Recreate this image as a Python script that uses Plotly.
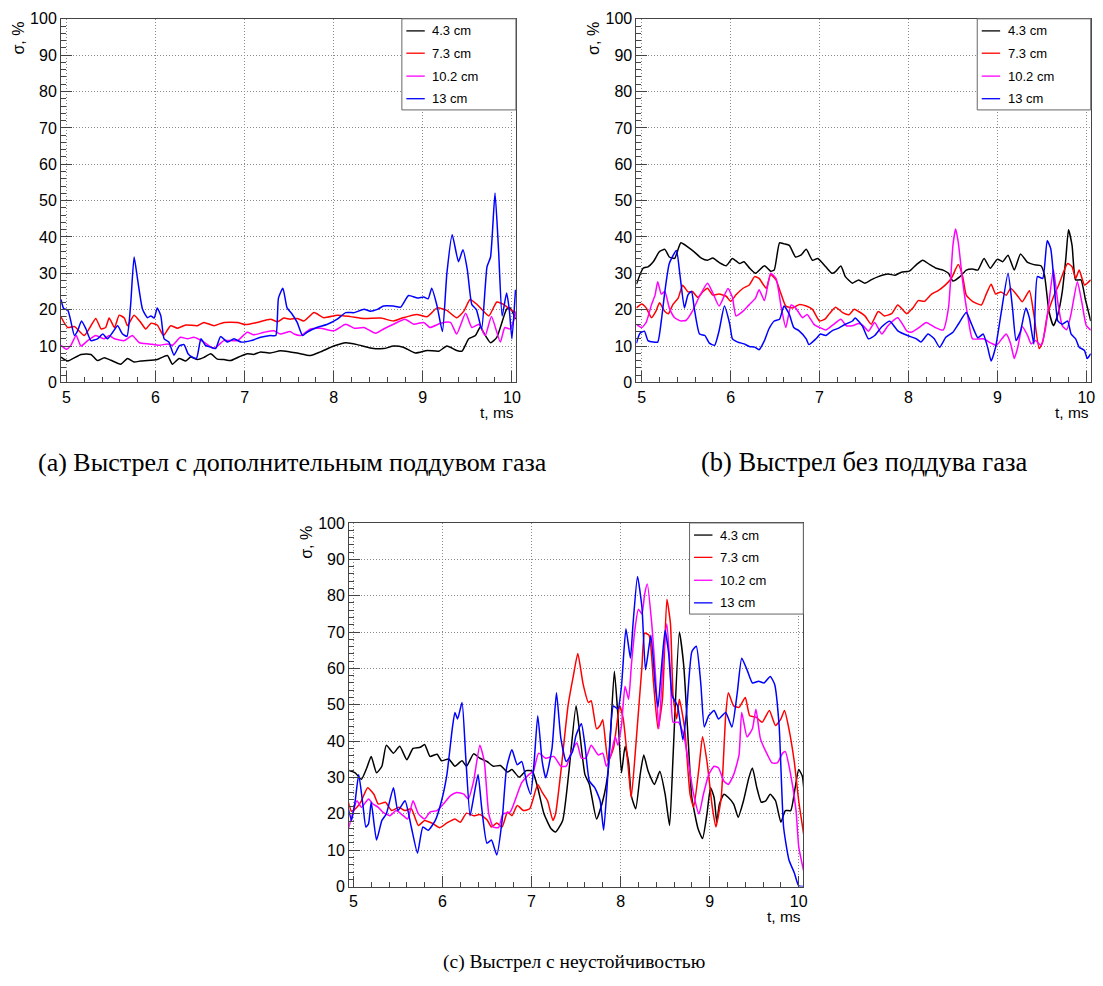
import plotly.graph_objects as go

# ---------------- (a) shot with extra gas puff ----------------
a_t43 = [4.94, 5.015, 5.164, 5.276, 5.35, 5.425, 5.50, 5.61, 5.686, 5.76, 5.835, 5.91, 6.02, 6.134, 6.19,
         6.265, 6.34, 6.395, 6.47, 6.544, 6.62, 6.694, 6.768, 6.843, 6.936, 7.03, 7.10, 7.18, 7.29, 7.40,
         7.51, 7.59, 7.74, 7.85, 8.0, 8.135, 8.265, 8.41, 8.56, 8.67, 8.78, 8.917, 9.05, 9.18, 9.27, 9.38,
         9.44, 9.515, 9.59, 9.646, 9.68, 9.76, 9.83, 9.94, 9.98, 10.04]
a_s43 = [7.0, 5.9, 7.7, 7.7, 6.0, 6.8, 6.1, 5.0, 6.6, 5.6, 5.9, 6.0, 6.3, 7.4, 5.0,
         6.6, 5.9, 7.0, 6.3, 6.9, 7.9, 6.4, 6.3, 6.0, 7.0, 7.9, 7.7, 8.4, 8.1, 8.7,
         8.4, 8.1, 7.4, 8.4, 10.0, 10.9, 10.4, 9.5, 9.3, 10.0, 9.7, 8.1, 8.8, 8.6, 10.0, 8.8,
         8.6, 12.0, 12.9, 15.3, 13.8, 10.9, 12.4, 20.1, 20.5, 17.4]

a_t73 = [4.94, 5.015, 5.09, 5.2, 5.276, 5.33, 5.39, 5.44, 5.48, 5.54, 5.593, 5.65, 5.686, 5.76, 5.835,
         5.89, 5.95, 6.02, 6.09, 6.17, 6.246, 6.34, 6.47, 6.544, 6.656, 6.768, 6.92, 7.01, 7.14, 7.29,
         7.37, 7.44, 7.51, 7.59, 7.666, 7.78, 7.89, 8.04, 8.19, 8.34, 8.53, 8.67, 8.78, 8.93, 9.05,
         9.16, 9.27, 9.38, 9.46, 9.53, 9.61, 9.74, 9.83, 9.91, 9.98, 10.04]
a_s73 = [18.0, 15.1, 15.4, 12.9, 15.6, 17.6, 14.7, 15.1, 17.7, 15.1, 18.5, 17.7, 15.6, 18.5, 16.5,
         14.7, 16.3, 15.8, 12.9, 15.6, 14.9, 15.8, 15.6, 16.5, 15.6, 16.5, 16.5, 15.9, 16.5, 17.4,
         16.7, 17.7, 17.4, 17.6, 16.9, 19.2, 17.8, 18.5, 18.1, 17.6, 17.7, 16.9, 17.8, 18.7, 18.1,
         20.5, 19.8, 17.8, 19.6, 22.8, 21.4, 18.3, 22.1, 21.4, 20.1, 19.2]

a_t102 = [4.94, 5.0, 5.05, 5.11, 5.164, 5.24, 5.33, 5.425, 5.48, 5.54, 5.65, 5.70, 5.74, 5.82, 5.93,
          6.04, 6.134, 6.19, 6.28, 6.36, 6.43, 6.544, 6.656, 6.768, 6.92, 7.03, 7.10, 7.22, 7.33, 7.40,
          7.51, 7.556, 7.63, 7.74, 7.85, 8.0, 8.135, 8.23, 8.34, 8.47, 8.56, 8.67, 8.80, 8.90, 9.01,
          9.08, 9.20, 9.31, 9.38, 9.48, 9.55, 9.63, 9.70, 9.77, 9.87, 9.92, 9.98, 10.05]
a_s102 = [10.2, 9.1, 10.2, 12.9, 10.0, 11.5, 12.9, 12.0, 12.9, 12.0, 11.5, 12.3, 12.9, 10.9, 10.6,
          10.2, 10.6, 10.2, 12.4, 12.0, 12.4, 11.1, 9.3, 11.5, 11.5, 13.8, 13.1, 13.8, 14.2, 13.3,
          14.0, 13.3, 12.9, 14.7, 14.9, 14.2, 16.0, 14.9, 15.1, 13.5, 14.7, 16.0, 17.4, 16.0, 16.5,
          15.1, 16.3, 16.5, 13.3, 19.0, 15.1, 16.0, 12.9, 18.1, 11.1, 15.1, 14.7, 19.6]

a_t13 = [4.94, 4.97, 5.015, 5.045, 5.09, 5.126, 5.17, 5.22, 5.276, 5.35, 5.41, 5.46, 5.52, 5.575, 5.63,
         5.68, 5.72, 5.76, 5.80, 5.855, 5.91, 5.948, 5.985, 6.02, 6.06, 6.097, 6.15, 6.208, 6.265, 6.32,
         6.365, 6.41, 6.46, 6.51, 6.56, 6.62, 6.675, 6.73, 6.81, 6.88, 6.96, 7.07, 7.18, 7.29, 7.35,
         7.38, 7.43, 7.477, 7.53, 7.59, 7.65, 7.70, 7.81, 7.93, 8.04, 8.135, 8.23, 8.34, 8.41, 8.49,
         8.56, 8.67, 8.75, 8.84, 8.94, 9.01, 9.06, 9.10, 9.16, 9.22, 9.27, 9.33, 9.40, 9.45, 9.50,
         9.55, 9.60, 9.66, 9.72, 9.76, 9.81, 9.85, 9.89, 9.94, 9.97, 10.0, 10.04]
a_s13 = [22.8, 20.3, 19.9, 17.4, 12.9, 14.2, 16.9, 14.7, 11.5, 12.0, 13.3, 12.0, 13.8, 15.6, 13.3,
         12.7, 21.0, 34.5, 28.2, 20.1, 17.8, 18.3, 17.7, 20.5, 18.3, 12.0, 11.1, 7.5, 10.0, 10.4,
         7.9, 7.0, 6.6, 12.0, 10.2, 9.7, 9.3, 12.6, 11.1, 12.0, 11.1, 11.5, 12.4, 12.9, 12.9,
         23.2, 25.9, 20.5, 18.9, 16.5, 12.9, 13.8, 15.1, 16.0, 17.4, 19.2, 19.2, 20.1, 19.6, 20.1,
         21.0, 21.0, 20.7, 23.9, 23.2, 23.5, 23.0, 25.9, 21.0, 14.0, 30.0, 40.6, 33.2, 36.5, 30.9,
         21.4, 20.1, 14.7, 31.8, 34.5, 52.1, 36.3, 18.3, 24.6, 20.1, 12.0, 25.5]

# ---------------- (b) shot without gas puff ----------------
b_t43 = [4.94, 5.015, 5.07, 5.13, 5.20, 5.26, 5.31, 5.37, 5.44, 5.52, 5.59, 5.67, 5.74, 5.80, 5.87,
         5.95, 6.02, 6.10, 6.15, 6.21, 6.28, 6.38, 6.45, 6.49, 6.55, 6.60, 6.66, 6.73, 6.79, 6.85,
         6.92, 6.98, 7.07, 7.14, 7.18, 7.24, 7.29, 7.37, 7.44, 7.51, 7.58, 7.66, 7.77, 7.85, 7.92,
         8.01, 8.09, 8.16, 8.24, 8.31, 8.39, 8.45, 8.50, 8.58, 8.65, 8.72, 8.78, 8.85, 8.92, 9.00,
         9.06, 9.12, 9.19, 9.26, 9.34, 9.41, 9.49, 9.53, 9.58, 9.63, 9.68, 9.73, 9.77, 9.80, 9.84,
         9.88, 9.94, 9.99, 10.05]
b_s43 = [27.0, 31.4, 31.8, 33.2, 36.0, 36.6, 34.5, 34.1, 38.4, 37.2, 35.9, 34.2, 33.6, 34.2, 33.0,
         32.1, 34.1, 32.7, 33.2, 31.5, 30.0, 32.1, 30.6, 30.9, 38.4, 38.1, 37.7, 34.5, 35.0, 36.6,
         33.6, 34.1, 31.8, 30.0, 30.5, 32.0, 29.1, 27.3, 28.2, 27.3, 28.2, 29.1, 29.8, 29.5, 30.3,
         30.6, 32.4, 33.6, 32.4, 31.4, 30.9, 30.0, 27.9, 29.1, 30.9, 31.2, 30.9, 34.1, 31.4, 33.9,
         33.2, 35.0, 30.9, 35.3, 33.0, 32.4, 32.1, 29.5, 19.6, 15.6, 18.7, 25.0, 34.1, 42.0, 37.7,
         28.2, 28.2, 22.8, 16.9]

b_t73 = [4.94, 5.0, 5.05, 5.11, 5.16, 5.20, 5.26, 5.30, 5.35, 5.41, 5.46, 5.52, 5.57, 5.63, 5.69,
         5.74, 5.80, 5.87, 5.95, 6.00, 6.06, 6.14, 6.21, 6.27, 6.32, 6.40, 6.45, 6.51, 6.57, 6.62,
         6.70, 6.77, 6.85, 6.92, 7.00, 7.06, 7.11, 7.18, 7.26, 7.33, 7.39, 7.44, 7.51, 7.58, 7.66,
         7.73, 7.81, 7.88, 7.98, 8.05, 8.11, 8.18, 8.26, 8.33, 8.41, 8.48, 8.56, 8.61, 8.65, 8.72,
         8.82, 8.87, 8.93, 8.98, 9.04, 9.10, 9.15, 9.23, 9.28, 9.36, 9.41, 9.47, 9.51, 9.56, 9.64,
         9.69, 9.73, 9.79, 9.84, 9.88, 9.92, 9.98, 10.05]
b_s73 = [20.5, 21.6, 20.5, 17.8, 19.6, 21.9, 19.5, 18.9, 21.4, 23.2, 26.7, 24.9, 25.0, 23.4, 25.0,
         25.9, 24.0, 24.3, 23.7, 22.3, 24.1, 25.9, 26.8, 29.1, 28.6, 25.9, 29.7, 28.2, 24.1, 21.0,
         20.5, 21.4, 21.0, 20.1, 16.9, 17.4, 18.9, 20.7, 19.2, 18.6, 20.1, 19.5, 18.3, 16.0, 19.5,
         18.3, 18.9, 21.3, 18.9, 20.5, 22.5, 22.3, 24.3, 25.2, 26.7, 28.5, 32.4, 29.1, 24.0, 22.3,
         21.3, 24.0, 27.0, 24.3, 24.9, 24.0, 25.9, 23.7, 22.2, 25.2, 18.7, 9.3, 11.1, 18.3, 24.1,
         26.8, 29.5, 32.7, 31.8, 28.6, 30.9, 26.8, 28.2]

b_t102 = [4.94, 5.0, 5.05, 5.11, 5.15, 5.18, 5.22, 5.26, 5.31, 5.37, 5.44, 5.50, 5.57, 5.65, 5.74,
          5.80, 5.87, 5.97, 6.02, 6.06, 6.14, 6.21, 6.28, 6.32, 6.38, 6.45, 6.51, 6.57, 6.62, 6.68,
          6.73, 6.81, 6.86, 6.94, 7.01, 7.07, 7.14, 7.24, 7.30, 7.37, 7.44, 7.49, 7.55, 7.62, 7.70,
          7.77, 7.88, 7.98, 8.03, 8.13, 8.20, 8.30, 8.39, 8.45, 8.50, 8.53, 8.56, 8.61, 8.67, 8.72,
          8.84, 8.93, 8.99, 9.05, 9.10, 9.15, 9.19, 9.23, 9.28, 9.34, 9.38, 9.43, 9.49, 9.54, 9.58,
          9.63, 9.68, 9.73, 9.78, 9.83, 9.90, 9.95, 10.0, 10.05]
b_s102 = [16.0, 15.1, 16.5, 21.4, 24.0, 27.7, 24.3, 25.0, 20.5, 17.8, 16.9, 17.1, 19.6, 23.7, 27.3,
          24.6, 21.0, 25.8, 23.4, 18.3, 19.6, 21.4, 23.2, 25.5, 22.5, 30.0, 28.6, 20.5, 15.1, 21.3,
          20.5, 17.8, 18.7, 15.9, 15.0, 14.4, 15.6, 17.4, 15.6, 15.6, 16.2, 15.6, 14.1, 16.5, 13.3,
          15.6, 17.8, 14.2, 13.8, 15.3, 16.5, 15.1, 14.4, 20.5, 37.7, 42.2, 38.6, 27.7, 17.8, 12.0,
          12.0, 10.8, 10.2, 12.0, 13.3, 10.6, 6.6, 9.7, 15.3, 12.9, 10.6, 11.5, 10.2, 14.7, 22.0,
          31.0, 22.0, 15.6, 14.5, 19.0, 27.7, 22.0, 15.6, 14.4]

b_t13 = [4.94, 4.98, 5.03, 5.07, 5.13, 5.18, 5.22, 5.26, 5.31, 5.39, 5.43, 5.48, 5.52, 5.56, 5.59,
         5.65, 5.71, 5.76, 5.82, 5.87, 5.93, 5.99, 6.02, 6.08, 6.15, 6.21, 6.27, 6.32, 6.38, 6.43,
         6.49, 6.55, 6.60, 6.66, 6.71, 6.77, 6.85, 6.88, 6.96, 7.01, 7.07, 7.14, 7.22, 7.29, 7.37,
         7.40, 7.48, 7.55, 7.62, 7.70, 7.79, 7.88, 7.99, 8.09, 8.14, 8.22, 8.29, 8.35, 8.42, 8.50,
         8.56, 8.65, 8.71, 8.78, 8.84, 8.89, 8.93, 8.98, 9.04, 9.12, 9.17, 9.21, 9.26, 9.32, 9.36,
         9.41, 9.45, 9.51, 9.56, 9.60, 9.64, 9.68, 9.73, 9.79, 9.83, 9.88, 9.92, 9.98, 10.01, 10.05]
b_s13 = [10.8, 13.5, 14.1, 11.5, 11.1, 11.1, 16.9, 25.0, 32.7, 36.3, 29.5, 20.5, 24.1, 25.0, 20.5,
         13.3, 12.9, 10.8, 10.2, 14.2, 21.0, 16.0, 12.0, 11.1, 10.6, 9.9, 9.7, 9.0, 11.5, 14.7,
         16.9, 17.4, 21.0, 18.7, 15.1, 14.2, 12.0, 10.4, 12.0, 13.3, 12.9, 14.2, 15.0, 16.0, 16.9,
         17.7, 15.6, 12.0, 12.9, 15.3, 16.8, 14.2, 12.9, 12.0, 11.1, 13.3, 12.0, 9.7, 12.4, 13.8,
         16.0, 19.2, 16.0, 12.3, 13.3, 9.7, 5.9, 9.7, 18.7, 30.0, 20.5, 11.5, 14.1, 20.5, 17.8,
         10.6, 29.1, 28.6, 39.0, 36.8, 26.8, 16.9, 16.0, 16.9, 13.3, 12.0, 9.7, 8.8, 6.6, 7.9]

# ---------------- (c) shot with instability ----------------
c_t43 = [4.94, 5.02, 5.09, 5.15, 5.20, 5.26, 5.32, 5.37, 5.45, 5.52, 5.60, 5.67, 5.75, 5.80, 5.86,
         5.94, 5.99, 6.07, 6.14, 6.22, 6.27, 6.35, 6.42, 6.50, 6.57, 6.65, 6.73, 6.78, 6.86, 6.94,
         7.01, 7.07, 7.14, 7.22, 7.27, 7.35, 7.42, 7.50, 7.54, 7.60, 7.65, 7.73, 7.80, 7.86, 7.93,
         7.97, 8.01, 8.05, 8.09, 8.12, 8.17, 8.22, 8.26, 8.31, 8.38, 8.44, 8.50, 8.55, 8.59, 8.66,
         8.71, 8.76, 8.80, 8.87, 8.92, 8.97, 9.01, 9.05, 9.08, 9.11, 9.16, 9.21, 9.27, 9.32, 9.38,
         9.44, 9.48, 9.53, 9.58, 9.63, 9.68, 9.74, 9.80, 9.85, 9.91, 9.96, 10.0, 10.04, 10.06]
c_s43 = [32.0, 31.3, 29.5, 32.6, 35.8, 31.3, 33.1, 38.9, 36.7, 38.6, 34.9, 38.0, 38.3, 39.1, 35.8,
         36.4, 34.6, 35.1, 33.1, 34.6, 33.1, 36.5, 35.3, 34.4, 33.1, 33.3, 31.5, 32.2, 30.1, 31.9,
         31.7, 27.2, 20.0, 15.9, 15.0, 18.2, 31.7, 49.7, 42.5, 30.8, 28.1, 18.6, 23.6, 31.7, 59.2,
         47.0, 31.3, 38.5, 34.0, 25.0, 21.4, 30.8, 36.2, 31.7, 28.1, 31.7, 25.4, 16.8, 36.2, 70.0,
         60.5, 39.8, 24.5, 15.9, 13.2, 20.0, 27.2, 24.5, 17.7, 22.7, 25.4, 24.5, 22.7, 19.1, 23.6,
         29.9, 32.6, 27.2, 23.2, 23.6, 25.4, 23.6, 17.7, 20.9, 20.9, 27.2, 32.2, 30.4, 26.3]

c_t73 = [4.94, 4.98, 5.04, 5.09, 5.16, 5.23, 5.28, 5.36, 5.43, 5.51, 5.58, 5.65, 5.73, 5.80, 5.88,
         5.97, 6.05, 6.14, 6.20, 6.27, 6.35, 6.42, 6.50, 6.55, 6.61, 6.67, 6.73, 6.78, 6.84, 6.91,
         6.98, 7.07, 7.12, 7.18, 7.24, 7.27, 7.33, 7.41, 7.47, 7.52, 7.58, 7.64, 7.67, 7.73, 7.77,
         7.80, 7.86, 7.92, 7.99, 8.03, 8.09, 8.12, 8.18, 8.24, 8.27, 8.32, 8.37, 8.42, 8.47, 8.52,
         8.56, 8.59, 8.63, 8.66, 8.72, 8.78, 8.82, 8.88, 8.92, 8.97, 9.03, 9.07, 9.13, 9.18, 9.21,
         9.27, 9.33, 9.40, 9.45, 9.52, 9.59, 9.67, 9.74, 9.80, 9.84, 9.89, 9.95, 10.0, 10.06]
c_s73 = [23.6, 20.7, 21.8, 23.6, 27.2, 25.4, 22.7, 23.2, 20.9, 21.8, 20.9, 21.4, 16.8, 18.2, 17.5,
         16.2, 17.5, 18.6, 17.7, 20.2, 19.5, 19.8, 18.4, 16.4, 17.5, 16.4, 20.5, 19.5, 22.3, 20.9,
         21.4, 28.1, 25.9, 23.6, 18.2, 20.0, 31.7, 49.7, 58.0, 64.1, 55.6, 50.6, 51.1, 43.4, 44.3,
         45.9, 34.4, 38.0, 49.7, 46.1, 31.7, 24.5, 41.6, 60.5, 69.7, 69.1, 56.0, 43.4, 51.5, 79.0,
         72.3, 52.4, 46.1, 51.5, 43.4, 25.4, 21.8, 32.6, 41.2, 34.4, 21.8, 16.4, 24.5, 47.0, 53.3,
         49.7, 49.3, 52.0, 47.0, 46.6, 45.2, 48.4, 44.3, 46.1, 48.4, 43.4, 34.4, 23.6, 13.7]

c_t102 = [4.94, 4.98, 5.04, 5.09, 5.17, 5.22, 5.28, 5.33, 5.41, 5.48, 5.56, 5.61, 5.67, 5.73, 5.80,
          5.86, 5.94, 6.01, 6.09, 6.16, 6.24, 6.29, 6.35, 6.42, 6.47, 6.52, 6.57, 6.63, 6.68, 6.76,
          6.84, 6.89, 6.97, 7.02, 7.08, 7.16, 7.25, 7.33, 7.39, 7.45, 7.51, 7.56, 7.61, 7.67, 7.75,
          7.80, 7.84, 7.89, 7.94, 7.97, 8.01, 8.05, 8.09, 8.12, 8.16, 8.20, 8.24, 8.27, 8.30, 8.35,
          8.39, 8.43, 8.48, 8.52, 8.56, 8.59, 8.65, 8.71, 8.76, 8.82, 8.88, 8.93, 8.99, 9.05, 9.10,
          9.16, 9.21, 9.27, 9.33, 9.36, 9.42, 9.48, 9.52, 9.57, 9.65, 9.70, 9.76, 9.82, 9.85, 9.91,
          9.97, 10.0, 10.06]
c_s102 = [15.5, 19.1, 23.6, 21.8, 24.1, 22.7, 21.8, 20.5, 19.5, 20.9, 19.5, 18.6, 23.6, 20.0, 18.6,
          20.5, 20.9, 22.7, 25.0, 25.9, 25.4, 24.1, 29.0, 38.9, 34.4, 20.0, 16.4, 16.2, 20.0, 20.5,
          25.4, 28.6, 30.8, 31.7, 36.7, 35.3, 35.8, 33.1, 33.1, 37.1, 39.5, 35.3, 35.3, 38.9, 36.2,
          36.7, 33.1, 36.2, 41.2, 38.9, 44.3, 55.1, 51.5, 60.5, 70.5, 76.3, 75.0, 80.4, 83.2, 72.3,
          58.7, 43.4, 63.2, 72.3, 58.7, 45.2, 45.2, 41.6, 34.4, 25.4, 20.0, 25.4, 30.8, 33.1, 32.6,
          29.0, 28.1, 30.8, 36.2, 47.9, 41.2, 43.4, 48.8, 40.7, 36.2, 34.0, 34.0, 36.7, 37.1, 30.8,
          20.9, 11.0, 3.8]

c_t13 = [4.94, 4.98, 5.02, 5.06, 5.11, 5.14, 5.17, 5.20, 5.26, 5.32, 5.37, 5.45, 5.50, 5.58, 5.65,
         5.72, 5.78, 5.84, 5.92, 5.99, 6.05, 6.11, 6.14, 6.17, 6.22, 6.26, 6.31, 6.35, 6.40, 6.44,
         6.50, 6.55, 6.61, 6.67, 6.72, 6.78, 6.84, 6.89, 6.95, 6.99, 7.03, 7.07, 7.12, 7.16, 7.23,
         7.28, 7.33, 7.39, 7.46, 7.50, 7.56, 7.60, 7.65, 7.71, 7.77, 7.81, 7.86, 7.92, 7.97, 8.01,
         8.06, 8.11, 8.14, 8.19, 8.24, 8.28, 8.34, 8.39, 8.42, 8.46, 8.50, 8.54, 8.58, 8.64, 8.70,
         8.74, 8.80, 8.85, 8.90, 8.94, 8.99, 9.05, 9.10, 9.18, 9.25, 9.31, 9.36, 9.42, 9.48, 9.55,
         9.61, 9.68, 9.73, 9.78, 9.83, 9.89, 9.95, 10.0, 10.06]
c_s13 = [21.8, 18.2, 23.6, 30.8, 21.8, 16.4, 17.3, 23.2, 12.8, 18.2, 20.0, 27.2, 20.9, 23.6, 16.4,
         9.2, 16.4, 15.5, 18.2, 23.6, 30.8, 43.4, 47.9, 46.1, 50.6, 36.2, 19.5, 24.5, 30.8, 21.8,
         11.9, 12.8, 8.7, 18.2, 32.6, 37.6, 33.5, 34.4, 28.1, 25.4, 34.4, 47.0, 34.4, 29.9, 38.0,
         53.3, 40.7, 34.4, 37.1, 41.6, 44.8, 38.9, 29.0, 27.2, 23.6, 15.5, 31.7, 49.7, 48.8, 55.1,
         70.9, 62.8, 72.3, 85.3, 76.8, 59.6, 69.1, 55.1, 49.3, 60.5, 70.5, 64.1, 52.4, 49.7, 40.3,
         47.9, 64.6, 66.1, 56.0, 43.9, 47.0, 48.4, 46.1, 47.9, 43.9, 53.3, 62.8, 59.6, 56.0, 56.5,
         56.0, 57.8, 55.6, 44.3, 16.4, 7.4, 3.8, 0.2, 0.0]

series_names = ["4.3 cm", "7.3 cm", "10.2 cm", "13 cm"]
series_colors = ["#000000", "#ff0000", "#ff00ff", "#0000ff"]

panels = [
    ("a", "x", "y", [(a_t43, a_s43), (a_t73, a_s73), (a_t102, a_s102), (a_t13, a_s13)]),
    ("b", "x2", "y2", [(b_t43, b_s43), (b_t73, b_s73), (b_t102, b_s102), (b_t13, b_s13)]),
    ("c", "x3", "y3", [(c_t43, c_s43), (c_t73, c_s73), (c_t102, c_s102), (c_t13, c_s13)]),
]

W, H = 1103, 986

# plot frames in pixels: left, right, top, bottom
frames = {
    "a": (61.3, 518.3, 11, 381),
    "b": (639.3, 1095.7, 11, 381),
    "c": (350.7, 807.0, 524, 894),
}
xranges = {"a": [4.94, 10.045], "b": [4.94, 10.05], "c": [4.952, 10.052]}
# legend boxes in pixels: left, top (right edge sits on the frame)
legend_pos = {"a": (403.7, 11), "b": (981.7, 11), "c": (692.7, 524)}

fig = go.Figure()
for key, xa, ya, curves in panels:
    for (t, s), name, col in zip(curves, series_names, series_colors):
        fig.add_trace(go.Scatter(
            x=t, y=s, mode="lines", name=name, xaxis=xa, yaxis=ya, showlegend=False,
            line=dict(color=col, width=1.5, shape="spline", smoothing=0.5),
        ))


def px_dom(l, r):
    return [l / W, r / W]


def py_dom(t, b):
    return [1 - b / H, 1 - t / H]


sans = "Liberation Sans, Arial, sans-serif"
tick_font = dict(family=sans, size=16, color="#000")
frame_col = "#444"
grid_style = dict(showgrid=True, gridcolor="#8c8c8c", griddash="1px,2px", gridwidth=1)


def x_axis(key, anchor):
    l, r, t, b = frames[key]
    return dict(
        domain=px_dom(l, r), anchor=anchor, range=xranges[key],
        tick0=5, dtick=1, ticks="inside", ticklen=11, tickcolor=frame_col,
        minor=dict(ticks="inside", ticklen=5, dtick=0.2, tick0=5, tickcolor=frame_col, showgrid=False),
        showline=True, linecolor=frame_col, linewidth=1, mirror=True,
        zeroline=False, tickfont=tick_font, **grid_style,
    )


def y_axis(key, anchor):
    l, r, t, b = frames[key]
    return dict(
        domain=py_dom(t, b), anchor=anchor, range=[0, 100],
        tick0=0, dtick=10, ticks="inside", ticklen=11, tickcolor=frame_col,
        minor=dict(ticks="inside", ticklen=5, dtick=2, tick0=0, tickcolor=frame_col, showgrid=False),
        showline=True, linecolor=frame_col, linewidth=1, mirror=True,
        zeroline=False, tickfont=tick_font, **grid_style,
    )


shapes = []
annotations = []
row_offsets = [12.3, 35.0, 58.3, 81.3]
for key in ("a", "b", "c"):
    l, r, t, b = frames[key]
    # legend box with a line sample and label for each series
    lx, ly = legend_pos[key]
    shapes.append(dict(
        type="rect", xref="paper", yref="paper", layer="above",
        x0=lx / W, x1=r / W, y0=1 - (ly + 92.7) / H, y1=1 - ly / H,
        line=dict(color="#666", width=1), fillcolor="white",
    ))
    for dy, name, col in zip(row_offsets, series_names, series_colors):
        yy = 1 - (ly + dy) / H
        shapes.append(dict(
            type="line", xref="paper", yref="paper", layer="above",
            x0=(lx + 4.5) / W, x1=(lx + 23) / W, y0=yy, y1=yy,
            line=dict(color=col, width=1.3),
        ))
        annotations.append(dict(
            text=name, xref="paper", yref="paper", x=(lx + 28.5) / W, y=yy,
            xanchor="left", yanchor="middle", showarrow=False,
            font=dict(family=sans, size=13, color="#000"),
        ))
    annotations.append(dict(
        text="σ, %", textangle=-90, xref="paper", yref="paper",
        x=(l - 43) / W, y=1 - (t + 1) / H, xanchor="center", yanchor="top",
        showarrow=False, font=dict(family=sans, size=16, color="#000"),
    ))
    annotations.append(dict(
        text="t, ms", xref="paper", yref="paper",
        x=r / W, y=1 - (b + 30.5) / H, xanchor="right", yanchor="middle",
        showarrow=False, font=dict(family=sans, size=15.5, color="#000"),
    ))

serif = "Liberation Serif, Times New Roman, serif"
captions = [
    ("(a) Выстрел с дополнительным поддувом газа", 294, 462, 26),
    ("(b) Выстрел без поддува газа", 868, 462, 26.5),
    ("(c) Выстрел с неустойчивостью", 577, 971, 19.5),
]
for text, cx, cy, fs in captions:
    annotations.append(dict(
        text=text, xref="paper", yref="paper", x=cx / W, y=1 - cy / H,
        xanchor="center", yanchor="middle", showarrow=False,
        font=dict(family=serif, size=fs, color="#000"),
    ))

fig.update_layout(
    width=W, height=H, margin=dict(l=0, r=0, t=0, b=0),
    paper_bgcolor="white", plot_bgcolor="white",
    xaxis=x_axis("a", "y"), yaxis=y_axis("a", "x"),
    xaxis2=x_axis("b", "y2"), yaxis2=y_axis("b", "x2"),
    xaxis3=x_axis("c", "y3"), yaxis3=y_axis("c", "x3"),
    shapes=shapes, annotations=annotations, showlegend=False,
)

fig.write_html("out.html")
